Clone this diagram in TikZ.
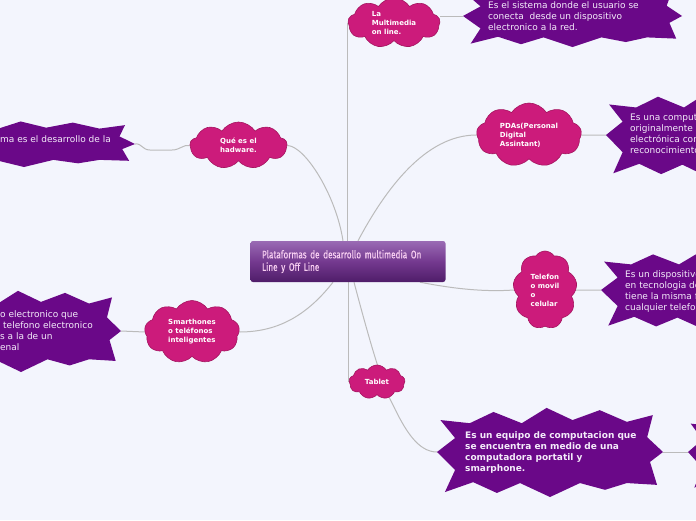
\documentclass[tikz,border=0pt]{standalone}
\usepackage{fontspec}
\setmainfont{DejaVu Sans}
\newfontfamily\condfont[FakeStretch=0.75,FakeBold=0.4]{Fira Sans}
\usetikzlibrary{shapes.symbols,calc}
\pgfdeclarelayer{bg}
\pgfsetlayers{bg,main}
\definecolor{bgc}{HTML}{F3F5FD}
\definecolor{cloudc}{HTML}{CC1B7B}
\definecolor{cloudb}{HTML}{A4145F}
\definecolor{burstc}{HTML}{6A0888}
\definecolor{linec}{HTML}{BBBBBB}
\definecolor{ctop}{HTML}{9A6BB4}
\definecolor{cmid}{HTML}{74398F}
\definecolor{cband}{HTML}{4F1D69}
\definecolor{ctext}{HTML}{F8CFF2}
\definecolor{btext}{HTML}{F4ECFA}
% #1 name, #2 cx, #3 cy, #4 half width, #5 half height
\newcommand\burstpoly[5]{%
 \fill[burstc] ({#2+#4},{#3}) -- ({#2+0.885*#4},{#3+0.22*#5}) -- ({#2+0.947*#4},{#3+0.73*#5}) -- ({#2+0.68*#4},{#3+0.69*#5}) -- ({#2+0.487*#4},{#3+0.84*#5}) -- ({#2+0.265*#4},{#3+0.69*#5}) -- ({#2},{#3+#5}) -- ({#2-0.265*#4},{#3+0.69*#5}) -- ({#2-0.47*#4},{#3+0.91*#5}) -- ({#2-0.68*#4},{#3+0.67*#5}) -- ({#2-0.93*#4},{#3+0.89*#5}) -- ({#2-0.84*#4},{#3+0.4*#5}) -- ({#2-#4},{#3}) -- ({#2-0.84*#4},{#3-0.31*#5}) -- ({#2-0.97*#4},{#3-0.71*#5}) -- ({#2-0.71*#4},{#3-0.64*#5}) -- ({#2-0.5*#4},{#3-0.89*#5}) -- ({#2-0.25*#4},{#3-0.64*#5}) -- ({#2-0.03*#4},{#3-0.98*#5}) -- ({#2+0.2*#4},{#3-0.71*#5}) -- ({#2+0.44*#4},{#3-0.93*#5}) -- ({#2+0.68*#4},{#3-0.67*#5}) -- ({#2+0.91*#4},{#3-0.82*#5}) -- ({#2+0.86*#4},{#3-0.33*#5}) -- cycle;
 \coordinate (#1-w) at ({#2-#4},{#3});
 \coordinate (#1-e) at ({#2+#4},{#3});}
\begin{document}
\begin{tikzpicture}[x=1pt,y=-1pt,
  cloudnode/.style={cloud, cloud puffs=9, cloud puff arc=115, fill=cloudc, draw=cloudb, line width=0.6pt,
    inner sep=0pt, font=\bfseries\fontsize{7}{9}\selectfont, text=white, align=left},
  conn/.style={draw=linec, line width=1pt},
  bursttext/.style={font=\fontsize{9}{11}\selectfont, text=btext, align=left, anchor=north west, inner sep=0pt},
  central/.style={rectangle, rounded corners=2.5pt, minimum width=195pt, minimum height=41pt,
    top color=ctop, bottom color=cband, middle color=cmid, text=ctext,
    font=\condfont\fontsize{10.9}{12.5}\selectfont, align=left, text width=172pt, inner sep=0pt}]
\useasboundingbox (0,0) rectangle (696,520);

% bursts
\burstpoly{bm}{572.5}{16}{109.5}{31}
\burstpoly{bh}{24}{144}{111}{23}
\burstpoly{bp}{710}{135}{104}{43}
\burstpoly{bt}{705}{290}{104}{40}
\burstpoly{bs}{21}{331}{100}{41}
\burstpoly{be}{550}{452}{113}{45}
\burstpoly{bx}{778}{452}{90}{40}

% central topic
\node[central] (C) at (348,261.5) {Plataformas de desarrollo multimedia On\\Line y Off Line};

% clouds
\node[cloudnode, minimum width=92pt, minimum height=50pt, aspect=1.84] (M) at (394,23) {La\\Multimedia\\on line.};
\node[cloudnode, minimum width=97pt, minimum height=47pt, aspect=2.06] (H) at (238.5,145.5) {Qué es el\\hadware.};
\node[cloudnode, minimum width=105pt, minimum height=64pt, aspect=1.64] (P) at (529,135) {PDAs(Personal\\Digital\\Assintant)};
\node[cloudnode, minimum width=64pt, minimum height=78pt, aspect=0.82] (T) at (545,290) {Telefon\\o movil\\o\\celular};
\node[cloudnode, minimum width=95pt, minimum height=63pt, aspect=1.5] (S) at (192,332) {Smarthones\\o teléfonos\\inteligentes};
\node[cloudnode, minimum width=56pt, minimum height=34pt, aspect=1.65] (Tab) at (377,382) {Tablet};

% burst texts
\node[bursttext] (tM) at (488,1) {Es el sistema donde el usuario se\\conecta \ desde un dispositivo\\electronico a la red.};
\node[bursttext] (tH) at (0,135) {ma es el desarrollo de la};
\node[bursttext] (tP) at (630,114) {Es una comput\\originalmente\\electrónica con\\reconocimiento};
\node[bursttext] (tT) at (625,270) {Es un dispositivo\\en tecnologia de\\tiene la misma f\\cualquier telefon};
\node[bursttext] (tS) at (0,310) {o electronico que\\\hspace{3pt}telefono electronico\\s a la de un\\enal};
\node[bursttext, font=\bfseries\fontsize{9}{11}\selectfont] (tE) at (465,431) {Es un equipo de computacion que\\se encuentra en medio de una\\computadora portatil y\\smarphone.};

% background and connectors
\begin{pgfonlayer}{bg}
\fill[bgc] (0,0) rectangle (696,520);
\draw[conn] (C.north -| M.west) -- (M.west);
\draw[conn] (bm-w) -- (bm-w -| M.east);
\draw[conn] ([xshift=-5pt]C.north) .. controls (336,195) and (305,146) .. (H.east);
\draw[conn] (H.west) .. controls (184,144) and (180,150) .. (172,150) -- (150,150) .. controls (142,150) and (142,143) .. (bh-e);
\draw[conn] ([xshift=10pt]C.north) .. controls (385,190) and (425,135) .. (P.west);
\draw[conn] (P.east) -- (bp-w);
\draw[conn] ([xshift=72pt]C.south) .. controls (455,289) and (485,292) .. (T.west);
\draw[conn] (T.east) -- (bt-w);
\draw[conn] ([xshift=-15pt]C.south) .. controls (305,318) and (275,332) .. (S.east);
\draw[conn] (S.west) -- (bs-e);
\draw[conn] (C.south -| Tab.west) -- (Tab.west);
\draw[conn] ([xshift=6pt]C.south) .. controls (368,335) and (382,385) .. (393,405) .. controls (405,430) and (418,452) .. (be-w);
\draw[conn] (be-e) -- (bx-w);
\end{pgfonlayer}
\end{tikzpicture}
\end{document}
